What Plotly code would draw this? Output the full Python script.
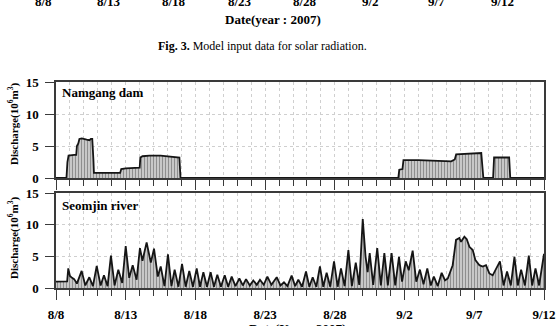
import plotly.graph_objects as go

# ---------------- data ----------------
# days since 8/8/2007
date_ticks = [0, 5, 10, 15, 20, 25, 30, 35]
date_labels = ["8/8", "8/13", "8/18", "8/23", "8/28", "9/2", "9/7", "9/12"]

# Namgang dam discharge (10^6 m^3)
nam_day = [0, 0.75, 0.82, 0.9, 1.3, 1.45, 1.5, 1.6, 1.68, 1.85, 2.2, 2.4, 2.5, 2.6, 2.68, 2.72,
           4.6, 4.68, 5.0, 6.0, 6.05, 6.2, 6.7, 7.5, 8.85, 8.93,
           24.55, 24.62, 24.85, 24.92, 26.0, 28.35, 28.6, 28.7, 30.5, 30.65,
           31.35, 31.42, 32.5, 32.58, 35]
nam_val = [0, 0, 2.5, 3.5, 3.6, 3.6, 5.0, 5.4, 6.1, 6.2, 6.0, 5.9, 6.1, 6.1, 3.0, 0.8,
           0.8, 1.4, 1.5, 1.6, 3.2, 3.4, 3.5, 3.5, 3.2, 0,
           0, 1.3, 1.4, 2.8, 2.8, 2.6, 2.9, 3.7, 3.9, 0,
           0, 3.2, 3.2, 0, 0]

# Seomjin river discharge (10^6 m^3)
seo_day = [0, 0.8, 0.88, 1.0, 1.15, 1.3, 1.5, 1.84, 2.1, 2.39, 2.65, 2.92, 3.2, 3.44, 3.7,
           3.94, 4.2, 4.47, 4.75, 5.0, 5.25, 5.5, 5.78, 6.02, 6.2, 6.5, 6.8, 7.03, 7.3,
           7.51, 7.78, 8.03, 8.28, 8.51, 8.78, 9.04, 9.3, 9.56, 9.82, 10.09, 10.33, 10.57,
           10.83, 11.09, 11.33, 11.57, 11.83, 12.1, 12.35, 12.6, 12.87, 13.15, 13.4, 13.63,
           13.9, 14.15, 14.4, 14.63, 14.9, 15.16, 15.45, 15.83, 16.1, 16.35, 16.6, 16.9,
           17.15, 17.38, 17.65, 17.93, 18.17, 18.41, 18.67, 18.93, 19.17, 19.41, 19.67,
           19.94, 20.2, 20.44, 20.7, 20.97, 21.22, 21.5, 21.75, 22.0, 22.2, 22.35, 22.5,
           22.75, 23.04, 23.3, 23.55, 23.8, 24.07, 24.33, 24.6, 24.82, 25.08, 25.3, 25.58,
           25.84, 26.1, 26.36, 26.63, 26.88, 27.1, 27.38, 27.66, 27.9, 28.1, 28.45, 28.69,
           28.93, 29.05, 29.29, 29.46, 29.65, 29.89, 30.08, 30.37, 30.6, 30.84, 31.08,
           31.32, 31.84, 32.1, 32.35, 32.62, 32.88, 33.12, 33.36, 33.63, 33.91, 34.15,
           34.39, 34.65, 35.0]
seo_val = [1.0, 1.05, 3.1, 1.9, 1.6, 1.4, 0.7, 2.7, 0.4, 1.7, 0.3, 3.5, 0.4, 2.0, 0.3,
           5.1, 0.4, 2.9, 0.8, 6.6, 1.6, 3.6, 1.3, 6.3, 4.3, 7.2, 4.0, 6.2, 1.8,
           3.4, 0.3, 5.3, 0.3, 2.9, 0.2, 3.8, 0.2, 2.7, 0.2, 3.1, 0.2, 2.5,
           0.2, 2.5, 0.2, 2.1, 0.2, 2.0, 0.2, 1.8, 0.3, 1.5, 0.4, 1.4,
           0.4, 1.2, 0.5, 1.3, 0.5, 1.8, 0.5, 1.7, 0.4, 0.9, 0.3, 1.95,
           0.3, 1.3, 0.2, 2.6, 0.2, 1.7, 0.2, 3.4, 0.2, 2.4, 0.2,
           4.2, 0.2, 3.1, 0.3, 6.0, 0.3, 4.0, 0.5, 10.9, 5.0, 2.5, 5.5,
           0.5, 6.3, 0.4, 5.5, 0.4, 5.5, 0.4, 4.9, 1.0, 4.2, 2.8, 5.9,
           1.0, 2.9, 0.6, 3.1, 0.4, 1.8, 0.3, 2.4, 1.2, 1.5, 3.6, 7.6,
           7.9, 7.3, 8.1, 7.7, 6.5, 6.0, 4.4, 3.6, 3.4, 3.6, 2.3,
           2.0, 4.2, 0.4, 2.6, 0.4, 4.9, 0.4, 2.9, 0.4, 5.1, 0.4,
           3.1, 0.4, 5.4]

# texts of the previous figure visible at the top of the page
prev_tick_labels = ["8/8", "8/13", "8/18", "8/23", "8/28", "9/2", "9/7", "9/12"]

# ---------------- layout helpers ----------------
W, H = 560, 326
L, R, T, B = 56, 544, 82, 288


def xp(px):
    return (px - L) / (R - L)


def yp(py):
    return (B - py) / (B - T)


SERIF = "Liberation Serif"
line_c = "#3a3a3a"
grid_c = "#cfcfcf"

fig = go.Figure()

fill_pat = dict(shape="|", bgcolor="#c8c8c8", fgcolor="#8e8e8e", size=3,
                solidity=0.33, fillmode="replace")

fig.add_trace(go.Scatter(x=nam_day, y=nam_val, mode="lines", fill="tozeroy",
                         fillcolor="#c8c8c8", fillpattern=fill_pat,
                         line=dict(color="#151515", width=1.8),
                         xaxis="x", yaxis="y", showlegend=False))
fig.add_trace(go.Scatter(x=seo_day, y=seo_val, mode="lines", fill="tozeroy",
                         fillcolor="#c8c8c8", fillpattern=fill_pat,
                         line=dict(color="#151515", width=1.8),
                         xaxis="x2", yaxis="y2", showlegend=False))

tickfont = dict(family=SERIF, size=13, color="black", weight="bold")

xcommon = dict(range=[0, 35], tickmode="array", tickvals=date_ticks, ticktext=date_labels,
               ticks="outside", ticklen=10, tickwidth=1.2, tickcolor=line_c,
               showline=True, linecolor=line_c, linewidth=1.5, mirror=True,
               showgrid=True, gridcolor=grid_c, griddash="dot", gridwidth=1,
               zeroline=False, tickfont=tickfont, automargin=False,
               minor=dict(tickmode="array", tickvals=list(range(36)), ticks="outside",
                          ticklen=6, tickwidth=1.1, tickcolor=line_c, showgrid=True,
                          gridcolor=grid_c, griddash="dot", gridwidth=1))

ycommon = dict(range=[0, 15], tickmode="array", tickvals=[0, 5, 10, 15],
               ticks="outside", ticklen=9, tickwidth=1.2, tickcolor=line_c,
               showline=True, linecolor=line_c, linewidth=1.5, mirror=True,
               showgrid=True, gridcolor=grid_c, griddash="dot", gridwidth=1,
               zeroline=False, tickfont=tickfont, ticklabelstandoff=4, automargin=False)

fig.update_layout(
    width=W, height=H,
    margin=dict(l=L, r=W - R, t=T, b=H - B, pad=0, autoexpand=False),
    paper_bgcolor="white", plot_bgcolor="white",
    xaxis=dict(xcommon, anchor="y", showticklabels=False),
    yaxis=dict(ycommon, domain=[yp(178), 1.0], anchor="x"),
    xaxis2=dict(xcommon, anchor="y2", ticklabelstandoff=4),
    yaxis2=dict(ycommon, domain=[0.0, yp(193)], anchor="x2"),
)

ann = []
# panel labels
ann.append(dict(x=xp(60), y=yp(92), xref="paper", yref="paper", xanchor="left",
                yanchor="middle", text="<b>Namgang dam</b>", showarrow=False,
                font=dict(family=SERIF, size=13, color="black")))
ann.append(dict(x=xp(60), y=yp(205), xref="paper", yref="paper", xanchor="left",
                yanchor="middle", text="<b>Seomjin river</b>", showarrow=False,
                font=dict(family=SERIF, size=13, color="black")))
# y-axis titles
for cy in (124, 238):
    ann.append(dict(x=xp(13), y=yp(cy), xref="paper", yref="paper", xanchor="center",
                    yanchor="middle", textangle=-90,
                    text="<b>Discharge(10<sup>6</sup>m<sup>3</sup>)</b>", showarrow=False,
                    font=dict(family=SERIF, size=11, color="black")))
# x-axis title (partly cut at the bottom)
ann.append(dict(x=xp(297), y=yp(319), xref="paper", yref="paper", xanchor="center",
                yanchor="top", text="<b>Date(Year : 2007)</b>", showarrow=False,
                font=dict(family=SERIF, size=13, color="black")))

# remnants of the previous figure at the top
for i, lab in enumerate(prev_tick_labels):
    px = 43 + i * (502 - 43) / 7
    ann.append(dict(x=xp(px), y=yp(11), xref="paper", yref="paper", xanchor="center",
                    yanchor="bottom", text="<b>" + lab + "</b>", showarrow=False,
                    font=dict(family=SERIF, size=13, color="black")))
ann.append(dict(x=xp(273), y=yp(20), xref="paper", yref="paper", xanchor="center",
                yanchor="middle", text="<b>Date(year : 2007)</b>", showarrow=False,
                font=dict(family=SERIF, size=13, color="black")))
ann.append(dict(x=xp(262), y=yp(46), xref="paper", yref="paper", xanchor="center",
                yanchor="middle",
                text="<b>Fig. 3.</b> Model input data for solar radiation.",
                showarrow=False, font=dict(family=SERIF, size=12, color="black")))

fig.update_layout(annotations=ann)

fig.write_html("out.html")
